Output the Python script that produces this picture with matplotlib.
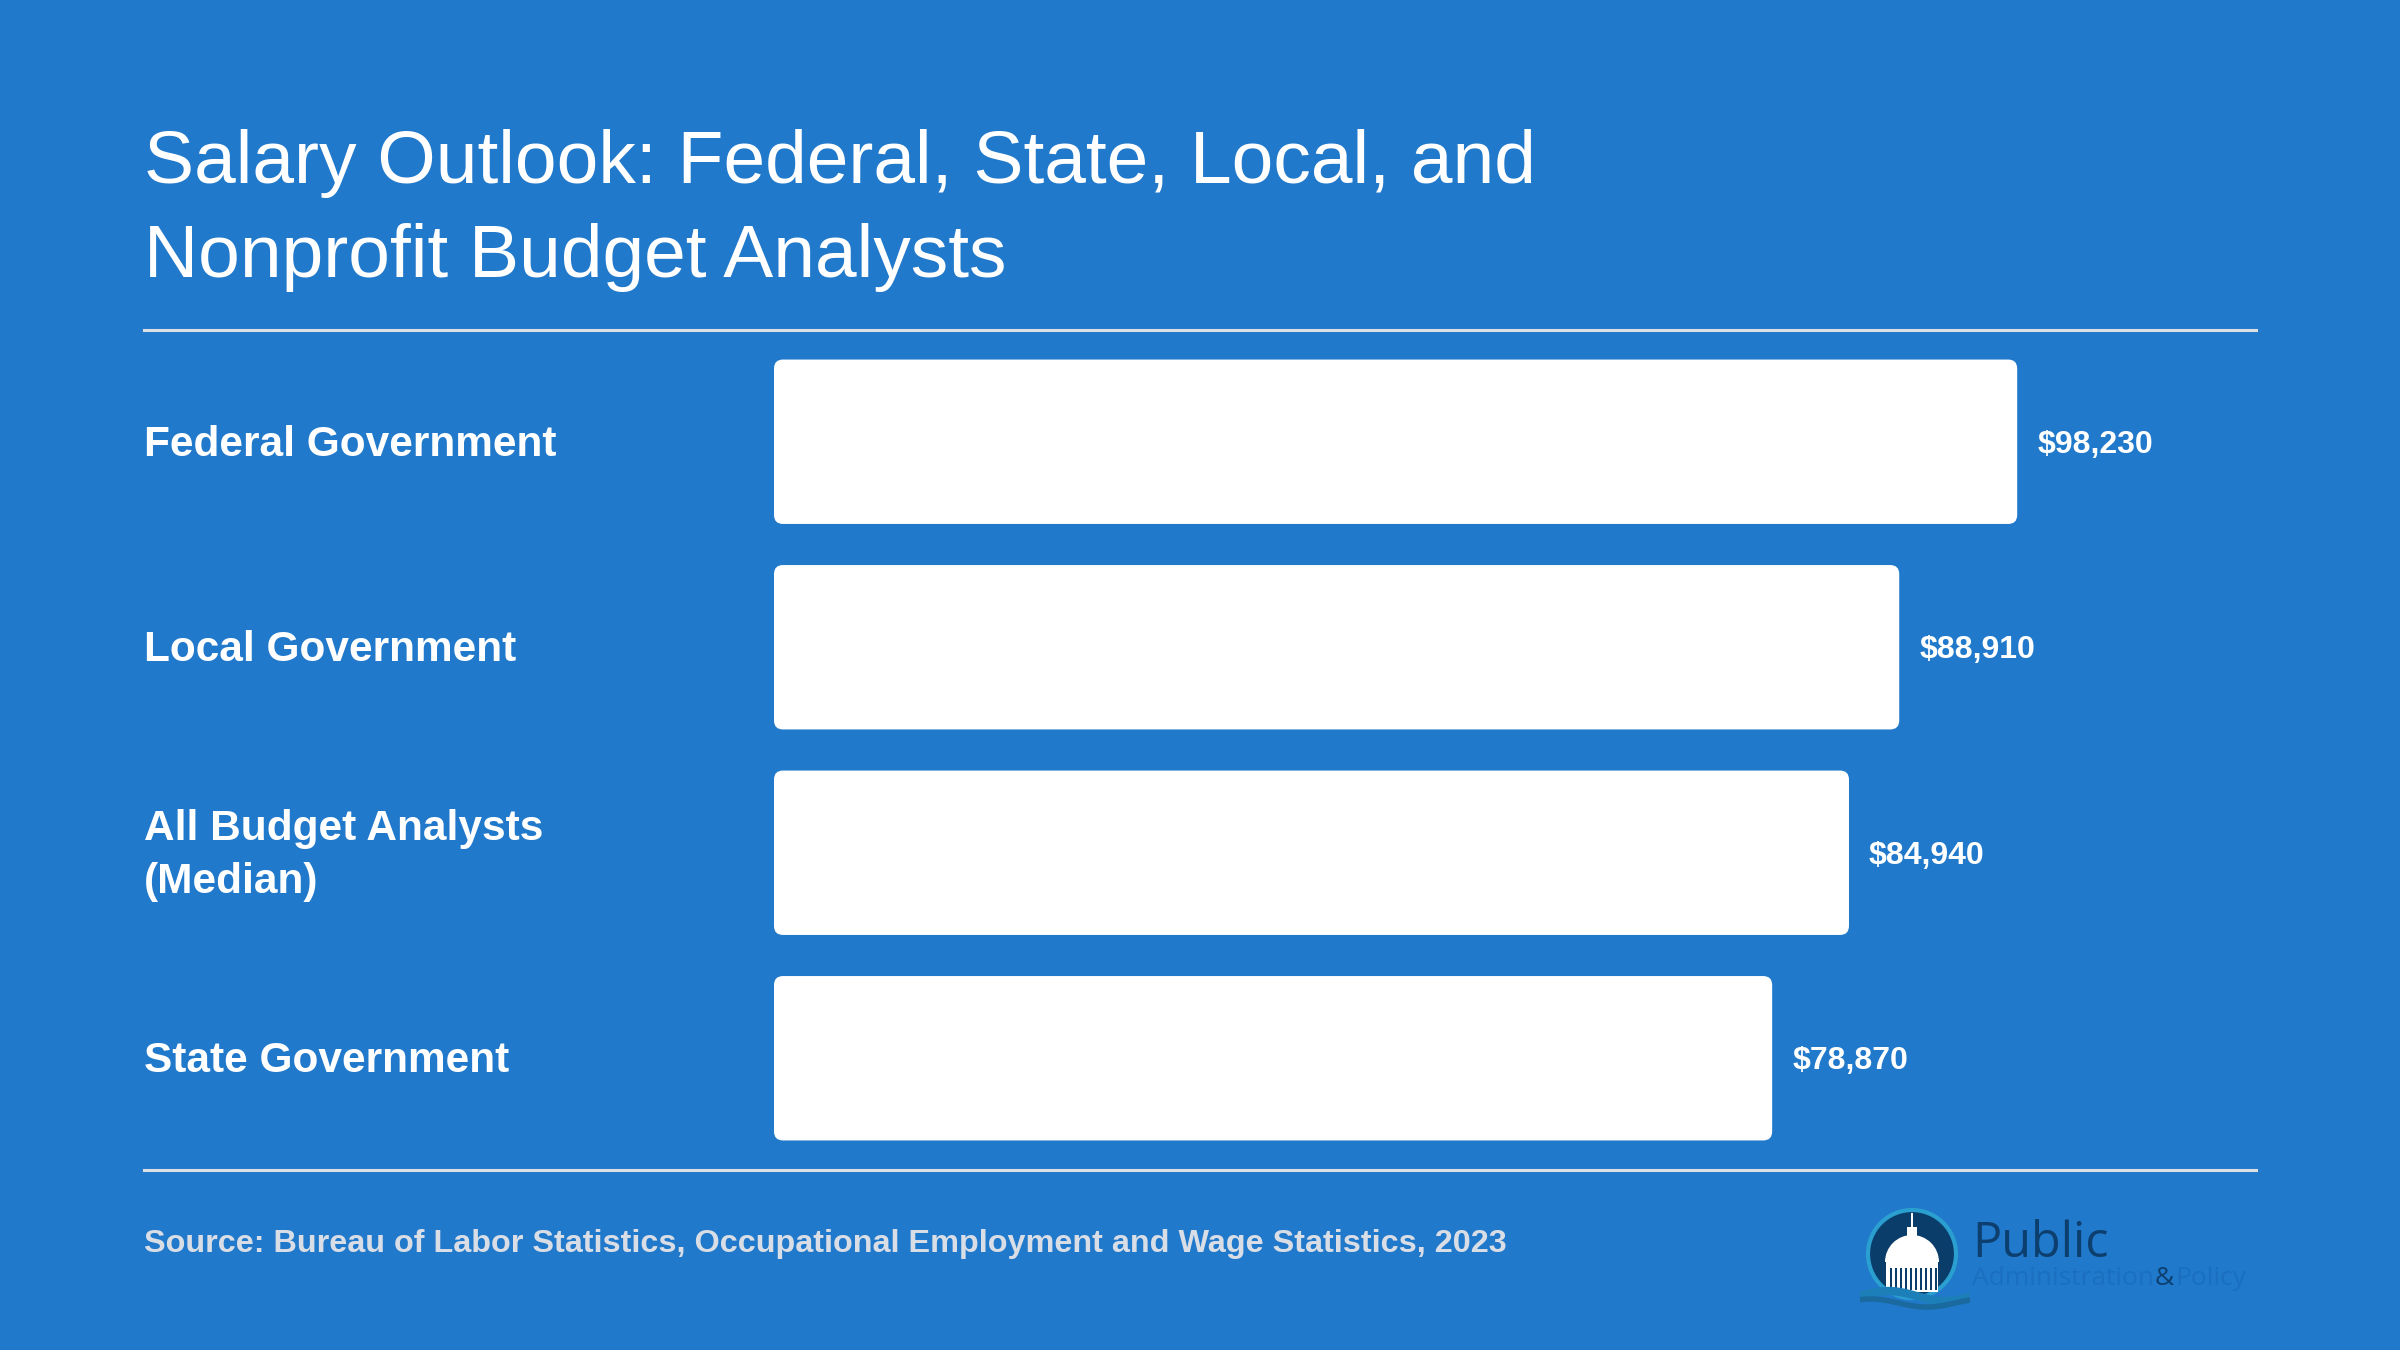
import numpy as np
import matplotlib.pyplot as plt
from matplotlib.patches import FancyBboxPatch, Circle, Wedge, Rectangle
from matplotlib.transforms import blended_transform_factory

plt.rcParams['font.family'] = ['Liberation Sans', 'DejaVu Sans']

# data
categories = ['Federal Government', 'Local Government', 'All Budget Analysts\n(Median)', 'State Government']
salaries = [98230, 88910, 84940, 78870]
value_labels = ['$98,230', '$88,910', '$84,940', '$78,870']

bg = '#2179cb'
W, H = 2400, 1350

fig = plt.figure(figsize=(24, 13.5), dpi=100, facecolor=bg)

# bar area
ax = fig.add_axes([774 / W, 1 - 1161 / H, (2256 - 774) / W, 822 / H])
ax.set_facecolor(bg)
ax.set_xlim(0, 117100)
y = np.arange(len(categories))
bars = ax.barh(y, salaries, height=0.8, color='none')
ax.set_ylim(3.5, -0.5)
ax.axis('off')

# rounded versions of the bars
px_x = 117100 / (2256 - 774)
px_y = 4.0 / 822
for b in bars:
    p = FancyBboxPatch((b.get_x(), b.get_y()), b.get_width(), b.get_height(),
                       boxstyle='round,pad=0,rounding_size=%f' % (9 * px_x),
                       mutation_aspect=px_y / px_x, fc='white', ec='none')
    ax.add_patch(p)

for b, lab in zip(bars, value_labels):
    ax.annotate(lab, (b.get_width(), b.get_y() + b.get_height() / 2),
                xytext=(14.4, -2), textcoords='offset points',
                ha='left', va='center', color='white', fontsize=23, fontweight='bold')

tr = blended_transform_factory(fig.transFigure, ax.transData)
for yi, cat in zip(y, categories):
    ax.annotate(cat, (144 / W, yi), xycoords=tr, xytext=(0, -2), textcoords='offset points',
                ha='left', va='center', color='white', fontsize=30.5,
                fontweight='bold', linespacing=1.4)

# title
fig.text(144 / W, 1 - 183 / H, 'Salary Outlook: Federal, State, Local, and',
         color='white', fontsize=54, va='baseline', ha='left')
fig.text(144 / W, 1 - 277 / H, 'Nonprofit Budget Analysts',
         color='white', fontsize=54, va='baseline', ha='left')

# rules
for yy in (330, 1170):
    fig.add_artist(plt.Line2D([144 / W, 2256 / W], [1 - yy / H, 1 - yy / H],
                              color='#dcdfe4', lw=2.2, transform=fig.transFigure))

# source
fig.text(144 / W, 1 - 1252 / H,
         'Source: Bureau of Labor Statistics, Occupational Employment and Wage Statistics, 2023',
         color='#d9dee6', fontsize=23.3, fontweight='bold', va='baseline', ha='left')

# logo
lax = fig.add_axes([1860 / W, 1 - 1310 / H, 110 / W, 110 / H])
lax.set_xlim(0, 110)
lax.set_ylim(0, 110)
lax.set_aspect('equal')
lax.axis('off')
lax.add_patch(Circle((52, 56), 44, fc='#0b3d6b', ec='#2a9fd0', lw=3))
lax.add_patch(Wedge((52, 48), 27, 0, 180, fc='white', ec='none'))
lax.add_patch(Rectangle((26, 18), 52, 30, fc='white', ec='none'))
for cx in np.arange(30, 77, 5):
    lax.add_patch(Rectangle((cx, 20), 1.6, 22, fc='#0b3d6b', ec='none'))
lax.add_patch(Rectangle((47, 74), 10, 9, fc='white', ec='none'))
lax.add_patch(Rectangle((51, 83), 2, 14, fc='white', ec='none'))
t = np.linspace(0, 110, 100)
lax.plot(t, 14 + 5 * np.sin(t / 18), color='#1c7fb8', lw=6)
lax.plot(t, 7 + 4 * np.sin(t / 18 + 1), color='#1a6aa0', lw=4)

logo_font = ['Open Sans', 'DejaVu Sans']
fig.text(1972 / W, 1 - 1257 / H, 'Public', color='#0d3f6e', fontsize=35,
         family=logo_font, va='baseline', ha='left')

# second line of the logo, pieces placed one after another
r = fig.canvas.get_renderer()
x0 = 1972
for piece, col in [('Administration', '#1b6fc0'), ('&', '#0d3f6e'), ('Policy', '#1b6fc0')]:
    tt = fig.text(x0 / W, 1 - 1285 / H, piece, color=col, fontsize=19,
                  family=logo_font, va='baseline', ha='left')
    x0 += tt.get_window_extent(renderer=r).width + 1

fig.savefig('out.png', dpi=100, facecolor=bg)
